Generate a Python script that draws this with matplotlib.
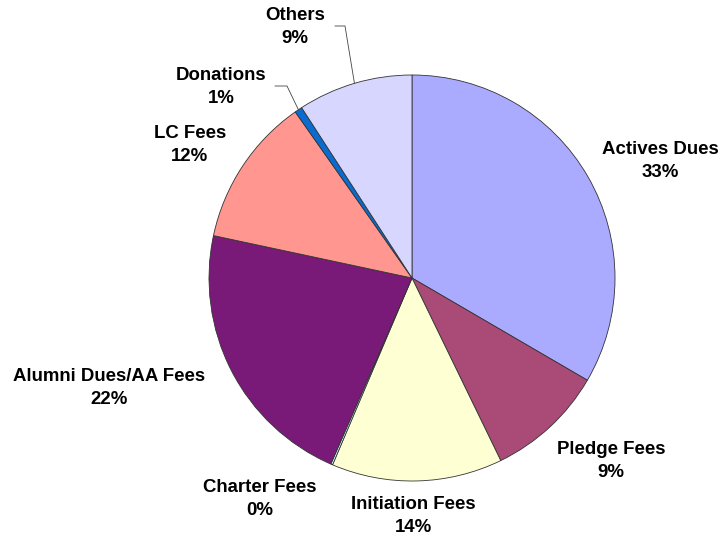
import numpy as np
import matplotlib
matplotlib.use("Agg")
import matplotlib.pyplot as plt

plt.rcParams["font.family"] = ["Liberation Sans", "DejaVu Sans"]

# slice data (clockwise from 12 o'clock)
categories = ["Actives Dues", "Pledge Fees", "Initiation Fees", "Charter Fees",
              "Alumni Dues/AA Fees", "LC Fees", "Donations", "Others"]
shares = [33.4, 9.4, 13.6, 0.15, 21.8, 11.9, 0.6, 9.15]
colors = ["#AAAAFF", "#A94A77", "#FFFFD4", "#CCFFFF",
          "#7A1A78", "#FF968F", "#0A6CD0", "#D6D6FF"]

# label block centres in pixel space (x from left, y from top)
label_pos = [(660, 161), (611, 461), (413, 516), (260, 499),
             (109, 388), (190, 145), (221, 87), (295, 27)]
# which labels get a leader line, and the elbow point next to the text
leaders = {"Donations": [(275, 86), (287, 86)],
           "Others": [(335, 26), (345, 26)]}

W, H = 720, 539
CX, CY, R = 412, 278, 203

fig = plt.figure(figsize=(7.2, 5.39), dpi=100)
ax = fig.add_axes([0, 0, 1, 1])

wedges, _ = ax.pie(shares, colors=colors, startangle=90, counterclock=False,
                   center=(CX, H - CY), radius=R,
                   wedgeprops=dict(edgecolor="#333333", linewidth=0.6))
ax.set_xlim(0, W)
ax.set_ylim(0, H)
ax.set_aspect("equal")
ax.axis("off")

for name, val, (lx, ly), w in zip(categories, shares, label_pos, wedges):
    ax.text(lx, H - ly, f"{name}\n{round(val)}%", ha="center", va="center",
            fontsize=13.4, fontweight="bold", linespacing=1.5, color="black")
    if name in leaders:
        mid = np.deg2rad((w.theta1 + w.theta2) / 2)
        ex = CX + R * np.cos(mid)
        ey = H - CY + R * np.sin(mid)
        pts = leaders[name]
        xs = [pts[0][0], pts[1][0], ex]
        ys = [H - pts[0][1], H - pts[1][1], ey]
        ax.plot(xs, ys, color="#444444", linewidth=0.6)

fig.savefig("out.png", dpi=100)
